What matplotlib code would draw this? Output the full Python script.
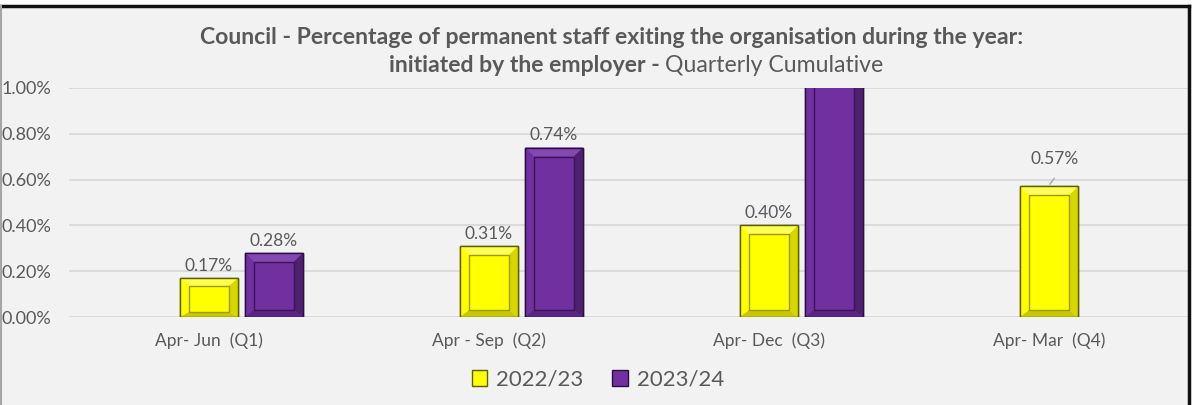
import matplotlib
matplotlib.use("Agg")
import matplotlib.pyplot as plt
from matplotlib.patches import Rectangle, Polygon
from matplotlib.transforms import IdentityTransform
from matplotlib.ticker import FuncFormatter

categories = ["Apr- Jun  (Q1)", "Apr - Sep  (Q2)", "Apr- Dec  (Q3)", "Apr- Mar  (Q4)"]
series_names = ["2022/23", "2023/24"]
values_2223 = [0.17, 0.31, 0.40, 0.57]
values_2324 = [0.28, 0.74, 1.05, None]
labels_2223 = ["0.17%", "0.31%", "0.40%", "0.57%"]
labels_2324 = ["0.28%", "0.74%", "", ""]
yticks = [0.0, 0.2, 0.4, 0.6, 0.8, 1.0]

FONT = "Lato"
TXT = "#595959"
BG = "#F2F2F2"
W, H = 1192, 405

fig = plt.figure(figsize=(W / 100, H / 100), dpi=100)
fig.patch.set_facecolor("white")
fig.add_artist(Rectangle((1 / W, 0), 1187 / W, (H - 6) / H, transform=fig.transFigure,
                         facecolor=BG, edgecolor="none", zorder=0))
fig.add_artist(plt.Line2D([1 / W, 1189 / W], [1 - 6 / H, 1 - 6 / H], transform=fig.transFigure,
                          color="#111111", lw=2.5))
fig.add_artist(plt.Line2D([1189 / W, 1189 / W], [0, 1 - 6 / H], transform=fig.transFigure,
                          color="#111111", lw=2.5))
fig.add_artist(plt.Line2D([1 / W, 1 / W], [0, 1 - 6 / H], transform=fig.transFigure,
                          color="#A6A6A6", lw=1.5))

ax = fig.add_axes([69 / W, (H - 317) / H, 1120 / W, 229 / H])
ax.set_facecolor("none")
ax.set_xlim(-0.5, 3.5)
ax.set_ylim(0, 1.0)
ax.set_yticks(yticks)
ax.yaxis.set_major_formatter(FuncFormatter(lambda v, p: f"{v:.2f}%"))
ax.grid(axis="y", color="#D9D9D9", lw=1.3)
ax.set_axisbelow(True)
for s in ax.spines.values():
    s.set_visible(False)
ax.tick_params(axis="y", length=0, pad=13, labelsize=13, labelcolor=TXT)
ax.tick_params(axis="x", length=0, pad=11, labelsize=12.5, labelcolor=TXT)
ax.set_xticks(range(len(categories)))
ax.set_xticklabels(categories)
for lab in ax.get_xticklabels() + ax.get_yticklabels():
    lab.set_fontfamily(FONT)

bw = 0.207
off = 0.232
x = list(range(len(categories)))
styles = [
    dict(face="#FFFF00", edge="#5E5E00", light="#FFFF55", dark="#D6D600", bottom="#C8C800", inner="#9A9A00"),
    dict(face="#7030A0", edge="#2A0F40", light="#8448B2", dark="#4E2170", bottom="#5A2683", inner="#3A1552"),
]

v2324 = [v if v is not None else 0 for v in values_2324]
bars1 = ax.bar([i for i in x], values_2223, width=bw, color=styles[0]["face"],
               edgecolor=styles[0]["edge"], lw=1, zorder=2)
bars2 = ax.bar([i + off for i in x], v2324, width=bw, color=styles[1]["face"],
               edgecolor=styles[1]["edge"], lw=1, zorder=2)


def bevel(bar, st):
    if bar.get_height() <= 0:
        bar.set_visible(False)
        return
    bb = bar.get_window_extent()
    x0, y0, x1, y1 = bb.x0, bb.y0, bb.x1, bb.y1
    ix, it, ib = 9, 9, 7
    h = y1 - y0
    if h < 60:
        it, ib = 8, 5
    tr = IdentityTransform()
    polys = [
        ([(x0, y1), (x1, y1), (x1 - ix, y1 - it), (x0 + ix, y1 - it)], st["light"]),
        ([(x0, y0), (x0, y1), (x0 + ix, y1 - it), (x0 + ix, y0 + ib)], st["face"]),
        ([(x1, y0), (x1, y1), (x1 - ix, y1 - it), (x1 - ix, y0 + ib)], st["dark"]),
        ([(x0, y0), (x1, y0), (x1 - ix, y0 + ib), (x0 + ix, y0 + ib)], st["bottom"]),
    ]
    for pts, c in polys:
        p = Polygon(pts, closed=True, facecolor=c, edgecolor="none", transform=tr, zorder=2.5)
        ax.add_patch(p)
    r = Rectangle((x0 + ix, y0 + ib), (x1 - x0) - 2 * ix, h - it - ib, facecolor="none",
                  edgecolor=st["inner"], lw=1, transform=tr, zorder=2.6)
    ax.add_patch(r)
    o = Rectangle((x0, y0), x1 - x0, h, facecolor="none", edgecolor=st["edge"], lw=1,
                  transform=tr, zorder=2.7)
    ax.add_patch(o)


for b in bars1:
    bevel(b, styles[0])
for b in bars2:
    bevel(b, styles[1])
ax.set_xlim(-0.5, 3.5)
ax.set_ylim(0, 1.0)

LS = 12.5
for i, (b, t) in enumerate(zip(bars1, labels_2223)):
    xc = b.get_x() + b.get_width() / 2
    if i == 3:
        ax.annotate(t, xy=(xc, b.get_height()), xytext=(4, 14), textcoords="offset points",
                    ha="center", va="bottom", fontsize=LS, color=TXT, fontfamily=FONT)
        ax.annotate("", xy=(xc - 0.003, b.get_height()), xytext=(xc + 0.025, b.get_height() + 0.045),
                    arrowprops=dict(arrowstyle="-", color="#A6A6A6", lw=1))
    else:
        ax.annotate(t, xy=(xc, b.get_height()), xytext=(0, 3), textcoords="offset points",
                    ha="center", va="bottom", fontsize=LS, color=TXT, fontfamily=FONT)
for b, t in zip(bars2, labels_2324):
    if t:
        xc = b.get_x() + b.get_width() / 2
        ax.annotate(t, xy=(xc, b.get_height()), xytext=(0, 3), textcoords="offset points",
                    ha="center", va="bottom", fontsize=LS, color=TXT, fontfamily=FONT)

# Title
TS = 16.6
t1 = fig.text(612 / W, 1 - 37 / H, "Council - Percentage of permanent staff exiting the organisation during the year:",
              ha="center", va="center", fontsize=TS, fontweight="bold", color=TXT, fontfamily=FONT)
ta = fig.text(0, 1 - 66 / H, "initiated by the employer - ", ha="left", va="center", fontsize=TS,
              fontweight="bold", color=TXT, fontfamily=FONT)
tb = fig.text(0, 1 - 66 / H, "Quarterly Cumulative", ha="left", va="center", fontsize=TS,
              color=TXT, fontfamily=FONT)
fig.canvas.draw()
r = fig.canvas.get_renderer()
wa = ta.get_window_extent(r).width
wb = tb.get_window_extent(r).width
start = 636 - (wa + wb) / 2
ta.set_x(start / W)
tb.set_x((start + wa) / W)

# Legend
handles = [Rectangle((0, 0), 1, 1, facecolor=styles[k]["face"], edgecolor=styles[k]["edge"], lw=1)
           for k in range(2)]
leg = fig.legend(handles, series_names, loc="center", bbox_to_anchor=(598 / W, 1 - 380 / H),
                 ncol=2, frameon=False, handlelength=0.7, handleheight=0.7,
                 handletextpad=0.4, columnspacing=1.3, labelcolor=TXT,
                 prop={"family": FONT, "size": 16})

fig.savefig("out.png", dpi=100, facecolor=fig.get_facecolor())
